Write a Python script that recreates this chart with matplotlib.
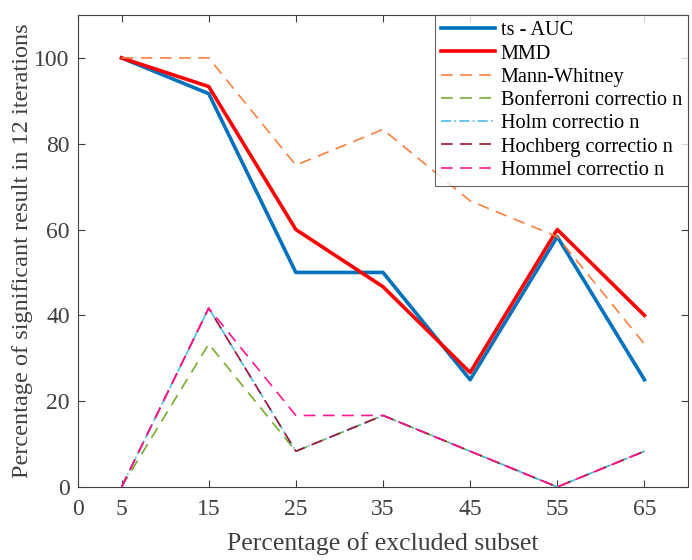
import matplotlib.pyplot as plt

plt.rcParams['font.family'] = ['Liberation Serif', 'DejaVu Serif']
plt.rcParams['mathtext.fontset'] = 'stix'

x_vals = [5, 15, 25, 35, 45, 55, 65]
ts_auc = [100, 91.67, 50, 50, 25, 58.33, 25]
mmd = [100, 93.33, 60, 46.67, 26.67, 60, 40]
mann_whitney = [100, 100, 75, 83.33, 66.67, 58.33, 33.33]
bonferroni = [0, 33.33, 8.33, 16.67, 8.33, 0, 8.33]
holm = [0, 41.67, 8.33, 16.67, 8.33, 0, 8.33]
hochberg = [0, 41.67, 8.33, 16.67, 8.33, 0, 8.33]
hommel = [0, 41.67, 16.67, 16.67, 8.33, 0, 8.33]
x_ticks = [0, 5, 15, 25, 35, 45, 55, 65]
y_ticks = [0, 20, 40, 60, 80, 100]

fig = plt.figure(figsize=(6.92, 5.6), dpi=100)
ax = fig.add_axes([0.1127, 0.1304, 0.8815, 0.8428])

dash = (0, (7, 4.5))
ax.plot(x_vals, ts_auc, color='#0072BD', lw=2.6, label='ts - AUC')
ax.plot(x_vals, mmd, color='#FF0000', lw=2.6, label='MMD')
ax.plot(x_vals, mann_whitney, color='#FF7F3F', lw=1.2, ls=dash, label='Mann-Whitney')
ax.plot(x_vals, bonferroni, color='#77AC30', lw=1.2, ls=dash, label='Bonferroni correctio n')
ax.plot(x_vals, holm, color='#4DBEEE', lw=1.2, ls=(0, (6, 2, 1, 2)), label='Holm correctio n')
ax.plot(x_vals, hochberg, color='#A2142F', lw=1.2, ls=dash, label='Hochberg correctio n')
ax.plot(x_vals, hommel, color='#FF1493', lw=1.2, ls=dash, label='Hommel correctio n')

ax.set_xlim(0, 70)
ax.set_ylim(0, 110)
ax.set_xticks(x_ticks)
ax.set_yticks(y_ticks)
ax.tick_params(direction='in', top=True, right=True, labelsize=17,
               colors='#404040', length=5, width=0.8)
ax.tick_params(axis='x', pad=9)
ax.tick_params(axis='y', pad=6)
for s in ax.spines.values():
    s.set_color('#404040')
    s.set_linewidth(0.8)

ax.set_xlabel('Percentage of excluded subset', fontsize=18.5, color='#404040', labelpad=8)
ax.set_ylabel('Percentage of significant result in 12 iterations', fontsize=17.5,
              color='#404040', labelpad=1)

leg = ax.legend(loc='upper right', fontsize=14.6, borderaxespad=0, handlelength=2.66,
                labelspacing=0.2, handletextpad=0.3, borderpad=0.3, frameon=True, fancybox=False)
leg.get_frame().set_edgecolor('#404040')
leg.get_frame().set_linewidth(0.8)

fig.savefig('out.png', dpi=100)
